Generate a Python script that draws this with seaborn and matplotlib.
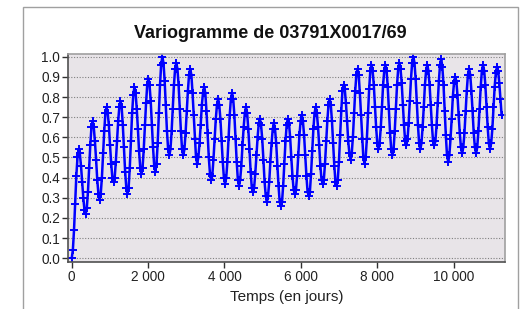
import numpy as np
import pandas as pd
import matplotlib
matplotlib.use("Agg")
import matplotlib.pyplot as plt
import seaborn as sns
from matplotlib.patches import Rectangle

# Experimental variogram, one value per monthly lag (about 30.4 days)
lag_step = 30.42
gamma = [
    0.00, 0.04, 0.14, 0.27, 0.41, 0.50, 0.54, 0.52, 0.46, 0.38, 0.30, 0.24,
    0.22, 0.25, 0.33, 0.45, 0.56, 0.65, 0.68, 0.65, 0.58, 0.49, 0.39, 0.32,
    0.29, 0.32, 0.40, 0.52, 0.63, 0.72, 0.75, 0.72, 0.66, 0.56, 0.47, 0.40,
    0.38, 0.40, 0.48, 0.58, 0.68, 0.75, 0.78, 0.75, 0.66, 0.55, 0.43, 0.35,
    0.32, 0.35, 0.45, 0.58, 0.72, 0.81, 0.85, 0.82, 0.74, 0.64, 0.53, 0.45,
    0.42, 0.45, 0.54, 0.66, 0.77, 0.86, 0.89, 0.86, 0.78, 0.66, 0.55, 0.46,
    0.43, 0.47, 0.57, 0.72, 0.86, 0.96, 1.00, 0.97, 0.88, 0.76, 0.63, 0.54,
    0.51, 0.54, 0.63, 0.74, 0.86, 0.94, 0.97, 0.94, 0.86, 0.74, 0.63, 0.54,
    0.51, 0.54, 0.62, 0.73, 0.83, 0.91, 0.94, 0.91, 0.82, 0.71, 0.59, 0.50,
    0.47, 0.50, 0.57, 0.66, 0.76, 0.82, 0.85, 0.82, 0.73, 0.62, 0.50, 0.42,
    0.39, 0.41, 0.49, 0.59, 0.69, 0.76, 0.79, 0.76, 0.69, 0.58, 0.48, 0.40,
    0.37, 0.40, 0.48, 0.60, 0.71, 0.79, 0.82, 0.79, 0.71, 0.59, 0.48, 0.39,
    0.36, 0.39, 0.46, 0.56, 0.65, 0.72, 0.75, 0.72, 0.64, 0.54, 0.43, 0.35,
    0.33, 0.35, 0.42, 0.51, 0.60, 0.67, 0.69, 0.66, 0.59, 0.49, 0.38, 0.31,
    0.28, 0.31, 0.38, 0.48, 0.57, 0.64, 0.67, 0.64, 0.57, 0.46, 0.36, 0.28,
    0.26, 0.28, 0.36, 0.47, 0.58, 0.66, 0.69, 0.67, 0.60, 0.50, 0.41, 0.34,
    0.32, 0.34, 0.41, 0.51, 0.61, 0.68, 0.71, 0.68, 0.61, 0.51, 0.41, 0.33,
    0.31, 0.33, 0.42, 0.53, 0.64, 0.72, 0.75, 0.72, 0.65, 0.56, 0.46, 0.39,
    0.37, 0.39, 0.47, 0.58, 0.68, 0.76, 0.79, 0.76, 0.68, 0.57, 0.46, 0.38,
    0.36, 0.39, 0.48, 0.61, 0.73, 0.83, 0.86, 0.84, 0.77, 0.68, 0.58, 0.52,
    0.49, 0.52, 0.60, 0.72, 0.83, 0.91, 0.94, 0.91, 0.82, 0.71, 0.59, 0.50,
    0.47, 0.50, 0.59, 0.72, 0.84, 0.93, 0.96, 0.93, 0.86, 0.75, 0.65, 0.57,
    0.54, 0.57, 0.65, 0.75, 0.86, 0.93, 0.96, 0.93, 0.85, 0.74, 0.62, 0.54,
    0.51, 0.54, 0.63, 0.74, 0.86, 0.94, 0.97, 0.94, 0.87, 0.76, 0.66, 0.58,
    0.56, 0.59, 0.67, 0.78, 0.89, 0.97, 1.00, 0.97, 0.89, 0.77, 0.66, 0.57,
    0.54, 0.57, 0.65, 0.75, 0.86, 0.93, 0.96, 0.93, 0.86, 0.76, 0.66, 0.58,
    0.56, 0.58, 0.66, 0.77, 0.88, 0.96, 0.99, 0.95, 0.86, 0.73, 0.61, 0.51,
    0.48, 0.51, 0.59, 0.69, 0.80, 0.87, 0.90, 0.88, 0.81, 0.71, 0.62, 0.55,
    0.52, 0.55, 0.62, 0.73, 0.83, 0.91, 0.94, 0.91, 0.83, 0.73, 0.62, 0.55,
    0.52, 0.55, 0.63, 0.74, 0.85, 0.93, 0.96, 0.93, 0.86, 0.75, 0.65, 0.57,
    0.54, 0.57, 0.64, 0.75, 0.85, 0.92, 0.95, 0.93, 0.87, 0.79, 0.71,
]
lags = np.arange(len(gamma)) * lag_step

x_ticks = [0, 2000, 4000, 6000, 8000, 10000]
x_tick_labels = ["0", "2 000", "4 000", "6 000", "8 000", "10 000"]
y_ticks = [0.0, 0.1, 0.2, 0.3, 0.4, 0.5, 0.6, 0.7, 0.8, 0.9, 1.0]

title = "Variogramme de 03791X0017/69"
x_label = "Temps (en jours)"

sns.set_theme(style="white")
plt.rcParams["font.family"] = ["Liberation Sans", "DejaVu Sans"]

df = pd.DataFrame({"lag": lags, "gamma": gamma})

fig = plt.figure(figsize=(5.21, 3.09), dpi=100)
fig.patch.set_facecolor("white")
ax = fig.add_axes([0.131, 0.153, 0.838, 0.672])
ax.set_facecolor("#e8e4e8")

sns.lineplot(
    data=df, x="lag", y="gamma", ax=ax, color="#0000ff",
    linewidth=1.8, marker="+", markersize=5.5, markeredgewidth=1.4,
    markeredgecolor="#0000ff",
)

ax.set_xlim(-90, 11340)
ax.set_ylim(-0.017, 1.013)
ax.set_xticks(x_ticks)
ax.set_xticklabels(x_tick_labels)
ax.set_yticks(y_ticks)
ax.set_yticklabels([f"{v:.1f}" for v in y_ticks])

ax.yaxis.grid(True, linestyle=(0, (1, 1.5)), color="#808080", linewidth=0.8)
ax.xaxis.grid(False)
ax.set_axisbelow(True)

ax.tick_params(axis="both", direction="out", length=4, width=1, color="#303030",
               labelsize=9.8, labelcolor="#222222", pad=2, left=True, bottom=True)
for side in ["left", "bottom"]:
    ax.spines[side].set_color("#505050")
    ax.spines[side].set_linewidth(1.2)
for side in ["top", "right"]:
    ax.spines[side].set_color("#a0a0a0")
    ax.spines[side].set_linewidth(1.2)

ax.set_xlabel(x_label, fontsize=11, color="#222222", labelpad=4)
ax.set_ylabel("")

fig.text(0.518, 0.893, title, ha="center", va="center",
         fontsize=13, fontweight="bold", color="#111111")

# light grey frame around the chart area
fig.patches.append(Rectangle(
    (22.7 / 521, -0.1), (518.3 - 22.7) / 521, 1.1 - 7.3 / 309,
    transform=fig.transFigure, fill=False, edgecolor="#a0a0a0", linewidth=1,
))

fig.savefig("out.png", dpi=100)
